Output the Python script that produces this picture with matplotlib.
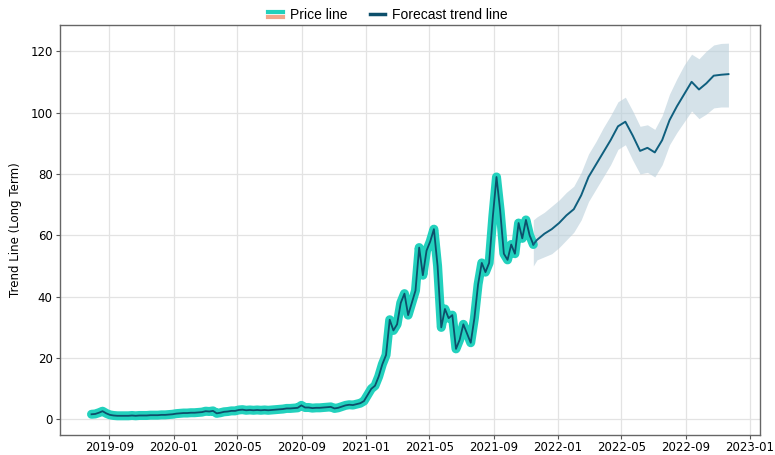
#!/usr/bin/env python3
import pandas as pd
import matplotlib
matplotlib.use("Agg")
import matplotlib.pyplot as plt
import matplotlib.dates as mdates
from matplotlib.lines import Line2D
from matplotlib.legend_handler import HandlerBase

# prix hebdomadaires (lundi), du 2019-07-29 au 2021-11-15
price_start = "2019-07-29"
price_values = [
    1.7,
    1.8, 2.2, 2.7, 2.0,            # 2019-08
    1.5, 1.3, 1.2, 1.2, 1.2,       # 2019-09
    1.2, 1.3, 1.2, 1.3,            # 2019-10
    1.3, 1.3, 1.4, 1.4,            # 2019-11
    1.4, 1.5, 1.5, 1.6, 1.7,       # 2019-12
    1.9, 2.0, 2.1, 2.1,            # 2020-01
    2.2, 2.2, 2.3, 2.4,            # 2020-02
    2.7, 2.6, 2.8, 2.0, 2.2,       # 2020-03
    2.5, 2.6, 2.8, 2.8,            # 2020-04
    3.1, 3.2, 3.0, 3.1,            # 2020-05
    3.0, 3.1, 3.0, 3.1, 3.0,       # 2020-06
    3.1, 3.2, 3.3, 3.4,            # 2020-07
    3.6, 3.6, 3.7, 3.8, 4.6,       # 2020-08
    3.9, 3.9, 3.7, 3.8,            # 2020-09
    3.8, 3.9, 4.0, 4.1,            # 2020-10
    3.6, 3.8, 4.2, 4.6, 4.8,       # 2020-11
    4.7, 5.0, 5.3, 6.0,            # 2020-12
    8.0, 10.0, 11.0, 14.0,         # 2021-01
    18.0, 21.0, 32.5, 29.0,        # 2021-02
    31.0, 38.0, 41.0, 34.0, 38.0,  # 2021-03
    42.0, 56.0, 47.0, 55.0,        # 2021-04
    58.0, 62.0, 50.0, 30.0, 36.0,  # 2021-05
    33.0, 34.0, 23.0, 26.0,        # 2021-06
    31.0, 28.0, 25.0, 33.0,        # 2021-07
    44.0, 51.0, 48.0, 51.0, 66.0,  # 2021-08
    79.0, 68.0, 54.0, 52.0,        # 2021-09
    57.0, 54.0, 64.0, 59.0,        # 2021-10
    65.0, 60.0, 57.0,              # 2021-11
]

# prévision de tendance
forecast_dates = [
    "2021-11-15", "2021-11-22", "2021-12-06", "2021-12-20", "2022-01-03",
    "2022-01-17", "2022-01-31", "2022-02-14", "2022-02-28", "2022-03-14",
    "2022-03-28", "2022-04-11", "2022-04-25", "2022-05-09", "2022-05-23",
    "2022-06-06", "2022-06-20", "2022-07-04", "2022-07-18", "2022-08-01",
    "2022-08-15", "2022-08-29", "2022-09-12", "2022-09-26", "2022-10-10",
    "2022-10-24", "2022-11-07", "2022-11-21",
]
forecast_mid = [
    57.0, 58.5, 60.5, 62.0, 64.0, 66.5, 68.5, 73.0, 79.0, 83.0,
    87.0, 91.0, 95.5, 97.0, 92.5, 87.5, 88.5, 87.0, 91.0, 97.5,
    102.0, 106.0, 110.0, 107.5, 109.5, 112.0, 112.3, 112.5,
]
forecast_low = [
    50.0, 52.0, 53.0, 54.0, 56.0, 58.5, 61.0, 65.0, 71.0, 75.0,
    79.0, 83.0, 88.0, 89.5, 84.5, 80.0, 80.5, 79.0, 83.0, 89.5,
    93.5, 97.0, 100.5, 98.0, 99.5, 101.5, 101.8, 101.8,
]
forecast_high = [
    65.0, 66.0, 67.5, 69.5, 71.5, 74.0, 76.0, 80.5, 86.5, 90.5,
    95.0, 99.0, 103.5, 105.0, 100.5, 95.5, 96.0, 94.5, 99.0, 106.0,
    111.0, 115.5, 119.0, 117.5, 120.0, 122.0, 122.5, 122.6,
]

price_dates = pd.date_range(price_start, periods=len(price_values), freq="W-MON")
fc_dates = pd.to_datetime(forecast_dates)

turquoise = "#22d1bd"
dark = "#0d4f6b"
fc_color = "#0f5f7e"
band_color = "#b9cfdb"
salmon = "#f4a58a"


class TwoLineHandler(HandlerBase):
    # poignée de légende : deux traits superposés
    def create_artists(self, legend, orig_handle, xdescent, ydescent,
                       width, height, fontsize, trans):
        x0, x1 = -xdescent, -xdescent + width
        top = Line2D([x0, x1], [0.75 * height - ydescent] * 2,
                     color=turquoise, lw=3, transform=trans)
        bot = Line2D([x0, x1], [0.2 * height - ydescent] * 2,
                     color=salmon, lw=3, transform=trans)
        return [top, bot]


fig = plt.figure(figsize=(7.75, 4.55), dpi=100)
ax = fig.add_axes([0.077, 0.045, 0.904, 0.9])

ax.plot(price_dates, price_values, color=turquoise, lw=6.5, solid_capstyle="round",
        solid_joinstyle="round", zorder=3)
ax.plot(price_dates, price_values, color=dark, lw=1.3, zorder=4)

ax.fill_between(fc_dates, forecast_low, forecast_high, color=band_color,
                alpha=0.6, lw=0, zorder=2)
ax.plot(fc_dates, forecast_mid, color=fc_color, lw=1.4, zorder=4)

ax.set_ylim(-4.9, 128.5)
ax.set_yticks(range(0, 121, 20))
ax.set_ylabel("Trend Line (Long Term)", fontsize=8.5, labelpad=6)
ax.tick_params(labelsize=8.5, color="#555555", length=3, pad=2)
ax.xaxis.set_major_formatter(mdates.DateFormatter("%Y-%m"))
ax.xaxis.set_major_locator(mdates.MonthLocator(bymonth=[1, 5, 9]))
ax.grid(True, color="#e3e3e3", lw=0.9)
ax.set_axisbelow(True)
for s in ax.spines.values():
    s.set_color("#666666")
    s.set_linewidth(1.0)

price_handle = Line2D([], [], color=turquoise)
fc_handle = Line2D([], [], color=dark, lw=2.5)
fig.legend([price_handle, fc_handle], ["Price line", "Forecast trend line"],
           handler_map={price_handle: TwoLineHandler()},
           loc="upper center", bbox_to_anchor=(0.5, 1.01), ncol=2, frameon=False,
           handlelength=1.1, columnspacing=1.6, handletextpad=0.5,
           prop={"family": "Liberation Sans", "size": 10})

fig.savefig("out.png", dpi=100)
